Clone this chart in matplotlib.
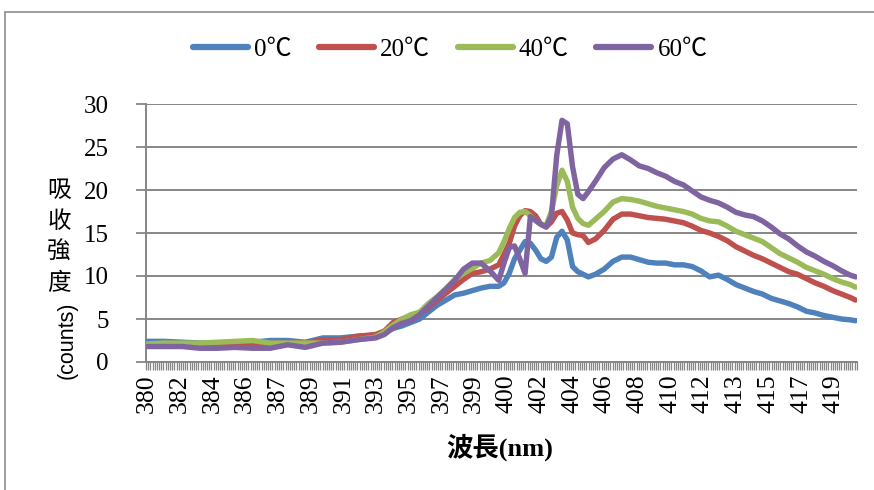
import matplotlib
matplotlib.use("Agg")
import matplotlib.pyplot as plt
from matplotlib.ticker import FixedLocator
from matplotlib.patches import Rectangle
from matplotlib.lines import Line2D

# ---------------- data ----------------
wavelength = [380, 381, 382, 383, 384, 385, 386, 387, 388, 389, 390, 391, 392, 393,
              393.5, 394, 394.5, 395, 395.5, 396, 396.5, 397, 397.5, 398, 398.5, 399,
              399.5, 400, 400.3, 400.6, 400.9, 401.2, 401.5, 401.8, 402.1, 402.4, 402.7,
              403.0, 403.3, 403.6, 403.9, 404.2, 404.5, 404.8, 405.1, 405.5, 406, 406.5,
              407, 407.5, 408, 408.5, 409, 409.5, 410, 410.5, 411, 411.5, 412, 412.5,
              413, 413.5, 414, 414.5, 415, 415.5, 416, 416.5, 417, 417.5, 418, 418.5,
              419, 419.5, 420, 420.3]

s0 = [2.4, 2.4, 2.3, 2.2, 2.2, 2.2, 2.3, 2.5, 2.5, 2.3, 2.8, 2.8, 3.0, 3.1,
      3.4, 3.9, 4.2, 4.6, 5.0, 5.8, 6.6, 7.2, 7.8, 8.0, 8.3, 8.6,
      8.8, 8.8, 9.2, 10.3, 12.0, 13.0, 14.0, 13.8, 13.0, 12.0, 11.7,
      12.2, 14.5, 15.2, 14.2, 11.1, 10.5, 10.2, 9.9, 10.2, 10.8, 11.7,
      12.2, 12.2, 11.9, 11.6, 11.5, 11.5, 11.3, 11.3, 11.1, 10.6, 9.9, 10.1,
      9.6, 9.0, 8.6, 8.2, 7.9, 7.4, 7.1, 6.8, 6.4, 5.9, 5.7, 5.4,
      5.2, 5.0, 4.9, 4.8]

s20 = [2.1, 2.1, 2.0, 1.9, 1.9, 1.9, 1.9, 2.2, 2.2, 2.2, 2.6, 2.6, 3.0, 3.2,
       3.6, 4.6, 5.0, 5.2, 5.6, 6.3, 7.2, 8.0, 8.8, 9.6, 10.3, 10.5,
       10.8, 11.3, 12.5, 13.8, 15.8, 17.0, 17.6, 17.5, 17.0, 16.0, 15.7,
       16.3, 17.3, 17.5, 16.5, 15.0, 14.8, 14.7, 13.9, 14.3, 15.3, 16.6,
       17.2, 17.2, 17.0, 16.8, 16.7, 16.6, 16.4, 16.2, 15.8, 15.3, 15.0, 14.6,
       14.1, 13.4, 12.9, 12.4, 12.0, 11.5, 11.0, 10.5, 10.2, 9.7, 9.2, 8.8,
       8.3, 7.9, 7.5, 7.2]

s40 = [2.1, 2.2, 2.2, 2.2, 2.3, 2.4, 2.5, 2.2, 2.2, 2.2, 2.2, 2.3, 2.6, 2.9,
       3.5, 4.3, 5.0, 5.5, 5.8, 6.8, 7.6, 8.5, 9.6, 10.3, 10.9, 11.5,
       11.8, 12.7, 14.0, 15.5, 16.8, 17.4, 17.5, 17.0, 16.4, 16.0, 15.9,
       17.5, 20.5, 22.3, 21.0, 18.0, 16.7, 16.1, 15.9, 16.6, 17.5, 18.6,
       19.0, 18.9, 18.7, 18.4, 18.1, 17.9, 17.7, 17.5, 17.2, 16.7, 16.4, 16.3,
       15.8, 15.2, 14.8, 14.4, 14.0, 13.3, 12.6, 12.1, 11.6, 11.0, 10.6, 10.2,
       9.7, 9.3, 9.0, 8.7]

s60 = [1.8, 1.8, 1.8, 1.6, 1.6, 1.7, 1.6, 1.6, 2.0, 1.7, 2.2, 2.3, 2.6, 2.8,
       3.2, 4.0, 4.5, 4.8, 5.5, 6.5, 7.5, 8.5, 9.5, 10.8, 11.5, 11.5,
       10.6, 9.5, 11.5, 13.3, 13.5, 12.0, 10.3, 16.9, 16.5, 16.0, 15.7,
       17.0, 24.0, 28.1, 27.7, 22.7, 19.5, 19.0, 19.8, 21.0, 22.6, 23.6,
       24.1, 23.5, 22.8, 22.5, 22.0, 21.6, 21.0, 20.6, 19.9, 19.2, 18.8, 18.5,
       18.0, 17.4, 17.1, 16.9, 16.4, 15.7, 14.9, 14.3, 13.5, 12.8, 12.3, 11.7,
       11.2, 10.6, 10.1, 9.9]

series_names = ["0\u2103", "20\u2103", "40\u2103", "60\u2103"]
series_values = [s0, s20, s40, s60]
series_colors = ["#4F81BD", "#C0504D", "#9BBB59", "#8064A2"]

tick_labels = ["380", "382", "384", "386", "387", "389", "391", "393", "395", "397",
               "399", "400", "402", "404", "406", "408", "410", "412", "413", "415",
               "417", "419"]
label_step_nm = 1.86      # wavelength span between labelled categories
category_step_nm = 0.124  # wavelength step of one category
y_ticks = [0, 5, 10, 15, 20, 25, 30]

# ---------------- figure ----------------
W, H = 874, 490
fig = plt.figure(figsize=(W / 100, H / 100), dpi=100)

# chart-area border
fig.patches.append(Rectangle((5 / W, -0.1), 2, 1 - 12 / H + 0.1, transform=fig.transFigure,
                             fill=False, edgecolor="#8C8C8C", linewidth=1.2, zorder=0))

ax = fig.add_axes([146 / W, 1 - 362 / H, (857 - 146) / W, (362 - 104) / H])
gray = "#868686"

for name, vals, col in zip(series_names, series_values, series_colors):
    ax.plot(wavelength, vals, color=col, lw=3.9, solid_joinstyle="round",
            solid_capstyle="round", label=name, zorder=3)

x0 = wavelength[0]
ax.set_xlim(x0 - category_step_nm / 2, 420.38)
ax.set_ylim(0, 30)

label_pos = [x0 + i * label_step_nm for i in range(len(tick_labels))]
ax.xaxis.set_major_locator(FixedLocator(label_pos))
ax.set_xticklabels(tick_labels, rotation=90, family="Liberation Serif", fontsize=18.5)
minor_pos = []
p = x0 - category_step_nm / 2
while p <= 420.4:
    minor_pos.append(p)
    p += category_step_nm
ax.xaxis.set_minor_locator(FixedLocator(minor_pos))
ax.tick_params(axis="x", which="major", length=0, pad=9)
ax.tick_params(axis="x", which="minor", length=6, width=0.9, color=gray)

ax.set_yticks(y_ticks)
ax.set_yticklabels([str(v) for v in y_ticks], family="Liberation Serif", fontsize=18)
ax.tick_params(axis="y", which="major", length=7, width=1.3, color=gray, pad=20)

ax.grid(axis="y", color=gray, lw=1.4, zorder=1)
ax.set_axisbelow(True)
for s in ["top", "right"]:
    ax.spines[s].set_visible(False)
for s in ["left", "bottom"]:
    ax.spines[s].set_color(gray)
    ax.spines[s].set_linewidth(1.4)

# axis titles
fig.text(500 / W, 1 - 447 / H, "波長(nm)", ha="center", va="center", fontsize=19,
         fontweight="bold", family=["Liberation Serif", "Noto Sans CJK TC"])
fig.text(59 / W, 1 - 237 / H, "吸\n收\n強\n度", ha="center", va="center", fontsize=17,
         linespacing=1.45, family=["Noto Sans CJK TC"])
fig.text(67 / W, 1 - 340 / H, "(counts)", ha="center", va="center", rotation=90,
         fontsize=15.5, family="Liberation Sans")

# legend
handles = [Line2D([], [], color=c, lw=4.5, solid_capstyle="round") for c in series_colors]
fig.legend(handles, series_names, loc="center", bbox_to_anchor=(450 / W, 1 - 50 / H),
           ncol=4, frameon=False, handlelength=2.2, handletextpad=0.25,
           columnspacing=1.1, prop={"family": ["Liberation Serif", "Noto Sans CJK JP"],
                                    "size": 18})

fig.savefig("out.png", dpi=100)
